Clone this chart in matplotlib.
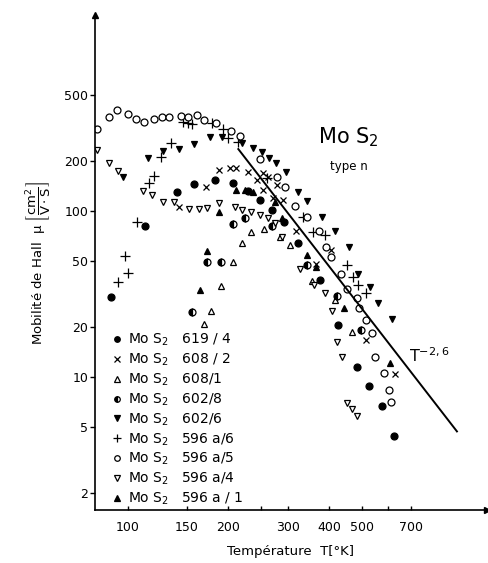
import numpy as np
import matplotlib
matplotlib.use("Agg")
import matplotlib.pyplot as plt
from matplotlib.lines import Line2D

plt.rcParams["font.family"] = ["DejaVu Sans"]
plt.rcParams["mathtext.default"] = "regular"

# ---------------------------------------------------------------------------
# Data: temperature T [K], Hall mobility mu [cm2/V.s]
# ---------------------------------------------------------------------------
T_619_4 = [89, 113, 140, 158, 182, 206, 228, 249, 269, 292, 322, 374, 424, 483, 524, 573, 622]
mu_619_4 = [30.3, 81, 130, 146, 154, 148, 132, 116, 101, 86, 64, 38.4, 20.6, 11.5, 8.8, 6.7, 4.4]

T_608_2 = [142, 172, 188, 202, 211, 228, 243, 253, 262, 279, 253, 271, 290, 319, 366, 404, 513, 627]
mu_608_2 = [106, 140, 177, 182, 182, 172, 154, 169, 160, 143, 134, 120, 116, 76, 48, 58, 16.7, 10.4]

T_608_1 = [169, 178, 190, 206, 220, 234, 255, 284, 305, 354, 415, 466]
mu_608_1 = [20.8, 25, 35.3, 49.3, 64, 74.6, 78, 70, 62, 38, 29, 18.6]

T_602_8 = [156, 173, 190, 206, 224, 269, 342, 421, 496]
mu_602_8 = [24.6, 49.3, 49.3, 83.6, 91, 81, 47, 30.8, 19.2]

T_602_6 = [97, 115, 128, 142, 158, 176, 191, 220, 236, 251, 264, 277, 296, 322, 342, 379,
           415, 457, 486, 527, 557, 614]
mu_602_6 = [160, 208, 230, 236, 254, 279, 279, 257, 240, 227, 208, 195, 172, 130, 115, 92,
            76, 61, 42, 35, 28, 22.4]

T_596a_6 = [94, 98, 100, 107, 116, 120, 126, 135, 146, 151, 156, 179, 192, 200, 213, 260,
            333, 357, 387, 451, 470, 486, 513]
mu_596a_6 = [37.4, 53.6, 42.3, 86, 148, 163, 211, 257, 344, 339, 334, 339, 312, 275, 261, 158,
             92, 75, 72, 47, 40, 36, 32]

T_596a_5 = [81, 88, 93, 100, 106, 112, 120, 127, 133, 144, 152, 161, 169, 184, 204, 216, 248,
            280, 294, 315, 344, 372, 390, 404, 432, 451, 483, 490, 513, 535, 546, 581, 601, 610]
mu_596a_5 = [312, 368, 406, 384, 358, 344, 358, 368, 368, 374, 368, 379, 353, 339, 303, 283, 206,
             160, 140, 107, 92, 76, 61, 53, 42, 34, 30, 26, 22, 18.4, 13.2, 10.6, 8.35, 7.07]

T_596a_4 = [81, 88, 94, 111, 118, 128, 138, 153, 163, 173, 188, 209, 220, 234, 248, 262, 275,
            288, 326, 361, 387, 406, 421, 435, 451, 467, 483]
mu_596a_4 = [233, 195, 174, 132, 125, 113, 113, 103, 103, 104, 112, 106, 101, 99, 95, 91, 85,
             70, 45, 36, 32, 25, 16.3, 13.2, 7.0, 6.4, 5.8]

T_596a_1 = [164, 173, 188, 210, 224, 236, 275, 288, 342, 366, 441, 605]
mu_596a_1 = [33.4, 57.4, 98.6, 134, 134, 130, 113, 91, 54, 46, 26, 12.1]

# T^-2.6 guide line end points
line_T = [214, 960]
line_mu = [236, 4.7]

x_ticks = [100, 150, 200, 300, 400, 500, 700]
x_minor = [250, 600]
y_ticks = [2, 5, 10, 20, 50, 100, 200, 500]

# ---------------------------------------------------------------------------
W, H = 489, 563
fig = plt.figure(figsize=(W / 100, H / 100), dpi=100)
ax = fig.add_axes([95 / W, 1 - 510 / H, (487 - 95) / W, (510 - 15) / H])
ax.set_xscale("log")
ax.set_yscale("log")
ax.set_xlim(80, 1180)
ax.set_ylim(1.58, 1516)

ms = 5
mew = 0.9
series = [
    (T_619_4, mu_619_4, dict(marker="o", mfc="black"), "619 / 4"),
    (T_608_2, mu_608_2, dict(marker="x", mfc="black"), "608 / 2"),
    (T_608_1, mu_608_1, dict(marker="^", mfc="white"), "608/1"),
    (T_602_8, mu_602_8, dict(marker="o", mfc="black", fillstyle="left",
                             markerfacecoloralt="white"), "602/8"),
    (T_602_6, mu_602_6, dict(marker="v", mfc="black"), "602/6"),
    (T_596a_6, mu_596a_6, dict(marker="+", mfc="black", ms=ms + 2), "596 a/6"),
    (T_596a_5, mu_596a_5, dict(marker="o", mfc="white"), "596 a/5"),
    (T_596a_4, mu_596a_4, dict(marker="v", mfc="white"), "596 a/4"),
    (T_596a_1, mu_596a_1, dict(marker="^", mfc="black"), "596 a / 1"),
]

handles, labels = [], []
for T, mu, style, name in series:
    kw = dict(ms=ms, mew=mew, mec="black", color="black", linestyle="none")
    kw.update(style)
    ax.plot(T, mu, **kw)
    hkw = dict(kw)
    hkw["ms"] = kw["ms"] - 1
    handles.append(Line2D([], [], **hkw))
    labels.append("Mo S$_2$   " + name)

ax.plot(line_T, line_mu, color="black", linewidth=1.4)
ax.text(690, 12.3, "T$^{-2,6}$", fontsize=11.5, ha="left", va="baseline")

ax.text(0.568, 0.741, "Mo S$_2$", transform=ax.transAxes, fontsize=15, va="baseline")
ax.text(0.60, 0.687, "type n", transform=ax.transAxes, fontsize=8.5, va="baseline")

leg = ax.legend(handles, labels, loc="upper left", bbox_to_anchor=(0.045, 0.36),
                frameon=False, fontsize=10, handlelength=0.6, handletextpad=0.5,
                labelspacing=0.25, borderpad=0, borderaxespad=0)

# axes: only left and bottom, with arrow heads
for s in ["top", "right"]:
    ax.spines[s].set_visible(False)
for s in ["left", "bottom"]:
    ax.spines[s].set_linewidth(1.2)
ax.plot(1, 0, ">k", ms=5, transform=ax.transAxes, clip_on=False)
ax.plot(0, 1, "^k", ms=5, transform=ax.transAxes, clip_on=False)

ax.set_xticks(x_ticks)
ax.set_xticklabels([str(t) for t in x_ticks])
ax.set_xticks(x_minor, minor=True)
ax.set_yticks(y_ticks)
ax.set_yticklabels([str(t) for t in y_ticks])
ax.yaxis.set_minor_locator(matplotlib.ticker.NullLocator())
ax.tick_params(axis="x", which="both", direction="in", length=3, width=1, pad=8, labelsize=9)
ax.tick_params(axis="y", which="both", direction="out", length=3.5, width=1, pad=1.5, labelsize=9)

ax.set_xlabel("Température  T[°K]", fontsize=9.5, labelpad=8)
ax.set_ylabel(r"Mobilité de Hall  $\mu\ \left[\dfrac{cm^2}{V\cdot S}\right]$", fontsize=9.5, labelpad=8)

fig.savefig("out.png", dpi=100, facecolor="white")
